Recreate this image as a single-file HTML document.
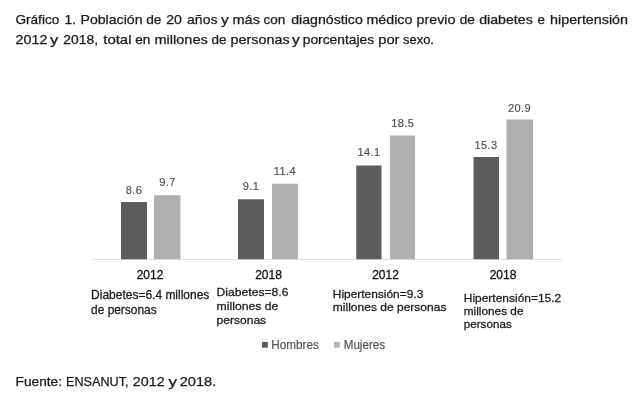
<!DOCTYPE html>
<html lang="es"><head><meta charset="utf-8"><title>Gráfico 1</title>
<style>html,body{margin:0;padding:0;background:#fff}body{width:640px;height:405px;overflow:hidden}svg{display:block;font-family:'Liberation Sans', sans-serif;filter:blur(.35px)}.t{font-size:12.4px;fill:#1a1a1a;stroke:#1a1a1a;stroke-width:.25px}.d{font-size:11px;fill:#4d4d4d;text-anchor:middle;letter-spacing:.45px;stroke:#4d4d4d;stroke-width:.15px}.y{font-size:12px;fill:#111;text-anchor:middle;stroke:#111;stroke-width:.3px}.n{font-size:12px;fill:#1c1c1c;stroke:#1c1c1c;stroke-width:.28px}.l{font-size:12px;fill:#555;stroke:#555;stroke-width:.2px}</style></head><body>
<svg width="640" height="405" viewBox="0 0 640 405">
<rect width="640" height="405" fill="#fff"/>
<text class="t" y="23.50"><tspan x="15.40" textLength="43.90" lengthAdjust="spacingAndGlyphs">Gráfico</tspan> <tspan x="64.50" textLength="11.50" lengthAdjust="spacingAndGlyphs">1.</tspan> <tspan x="80.50" textLength="62.00" lengthAdjust="spacingAndGlyphs">Población</tspan> <tspan x="146.25" textLength="15.25" lengthAdjust="spacingAndGlyphs">de</tspan> <tspan x="166.25" textLength="15.75" lengthAdjust="spacingAndGlyphs">20</tspan> <tspan x="187.00" textLength="30.50" lengthAdjust="spacingAndGlyphs">años</tspan> <tspan x="221.00" textLength="7.75" lengthAdjust="spacingAndGlyphs">y</tspan> <tspan x="232.50" textLength="27.50" lengthAdjust="spacingAndGlyphs">más</tspan> <tspan x="263.50" textLength="21.75" lengthAdjust="spacingAndGlyphs">con</tspan> <tspan x="291.25" textLength="71.50" lengthAdjust="spacingAndGlyphs">diagnóstico</tspan> <tspan x="366.40" textLength="46.00" lengthAdjust="spacingAndGlyphs">médico</tspan> <tspan x="416.60" textLength="38.70" lengthAdjust="spacingAndGlyphs">previo</tspan> <tspan x="459.70" textLength="15.20" lengthAdjust="spacingAndGlyphs">de</tspan> <tspan x="479.20" textLength="53.55" lengthAdjust="spacingAndGlyphs">diabetes</tspan> <tspan x="537.50" textLength="7.50" lengthAdjust="spacingAndGlyphs">e</tspan> <tspan x="550.10" textLength="77.90" lengthAdjust="spacingAndGlyphs">hipertensión</tspan></text>
<text class="t" y="43.75"><tspan x="15.60" textLength="31.80" lengthAdjust="spacingAndGlyphs">2012</tspan> <tspan x="50.00" textLength="8.20" lengthAdjust="spacingAndGlyphs">y</tspan> <tspan x="63.25" textLength="34.75" lengthAdjust="spacingAndGlyphs">2018,</tspan> <tspan x="103.25" textLength="28.25" lengthAdjust="spacingAndGlyphs">total</tspan> <tspan x="135.25" textLength="15.25" lengthAdjust="spacingAndGlyphs">en</tspan> <tspan x="154.50" textLength="53.25" lengthAdjust="spacingAndGlyphs">millones</tspan> <tspan x="211.60" textLength="15.00" lengthAdjust="spacingAndGlyphs">de</tspan> <tspan x="230.60" textLength="59.00" lengthAdjust="spacingAndGlyphs">personas</tspan> <tspan x="292.00" textLength="7.70" lengthAdjust="spacingAndGlyphs">y</tspan> <tspan x="302.70" textLength="71.55" lengthAdjust="spacingAndGlyphs">porcentajes</tspan> <tspan x="378.30" textLength="21.20" lengthAdjust="spacingAndGlyphs">por</tspan> <tspan x="403.10" textLength="30.80" lengthAdjust="spacingAndGlyphs">sexo.</tspan></text>
<rect x="92.5" y="259" width="469.5" height="1" fill="#e2e2e2"/>
<rect x="121.00" y="202.00" width="26.00" height="57.30" fill="#5c5c5c"/>
<rect x="154.00" y="195.25" width="26.50" height="64.05" fill="#afafaf"/>
<rect x="238.00" y="199.25" width="26.00" height="60.05" fill="#5c5c5c"/>
<rect x="272.00" y="183.75" width="26.00" height="75.55" fill="#afafaf"/>
<rect x="356.25" y="165.50" width="25.25" height="93.80" fill="#5c5c5c"/>
<rect x="390.00" y="135.50" width="25.00" height="123.80" fill="#afafaf"/>
<rect x="473.50" y="157.00" width="25.50" height="102.30" fill="#5c5c5c"/>
<rect x="506.50" y="119.50" width="26.50" height="139.80" fill="#afafaf"/>
<text class="d" x="134.00" y="193.50">8.6</text>
<text class="d" x="167.50" y="186.25">9.7</text>
<text class="d" x="251.00" y="190.25">9.1</text>
<text class="d" x="285.00" y="174.75">11.4</text>
<text class="d" x="369.00" y="156.25">14.1</text>
<text class="d" x="402.75" y="127.00">18.5</text>
<text class="d" x="486.00" y="148.50">15.3</text>
<text class="d" x="519.50" y="111.50">20.9</text>
<text class="y" x="150.00" y="279.00">2012</text>
<text class="y" x="268.50" y="279.10">2018</text>
<text class="y" x="385.50" y="279.10">2012</text>
<text class="y" x="503.00" y="279.10">2018</text>
<text class="n" style="font-size:11.9px" x="91.10" y="299.30" textLength="118.25" lengthAdjust="spacingAndGlyphs">Diabetes=6.4 millones</text>
<text class="n" style="font-size:11.9px" x="91.10" y="313.70" textLength="65.50" lengthAdjust="spacingAndGlyphs">de personas</text>
<text class="n" style="font-size:11.6px" x="216.60" y="296.10" textLength="71.90" lengthAdjust="spacingAndGlyphs">Diabetes=8.6</text>
<text class="n" style="font-size:11.6px" x="216.60" y="310.00" textLength="61.70" lengthAdjust="spacingAndGlyphs">millones de</text>
<text class="n" style="font-size:11.6px" x="216.60" y="323.60" textLength="49.50" lengthAdjust="spacingAndGlyphs">personas</text>
<text class="n" style="font-size:11.6px" x="332.80" y="297.50" textLength="90.50" lengthAdjust="spacingAndGlyphs">Hipertensión=9.3</text>
<text class="n" style="font-size:11.6px" x="332.80" y="310.90" textLength="113.60" lengthAdjust="spacingAndGlyphs">millones de personas</text>
<text class="n" style="font-size:11.6px" x="463.75" y="302.00" textLength="97.50" lengthAdjust="spacingAndGlyphs">Hipertensión=15.2</text>
<text class="n" style="font-size:11.6px" x="463.75" y="315.00" textLength="59.75" lengthAdjust="spacingAndGlyphs">millones de</text>
<text class="n" style="font-size:11.6px" x="463.75" y="328.10" textLength="48.00" lengthAdjust="spacingAndGlyphs">personas</text>
<rect x="262" y="341.9" width="5.8" height="5.8" fill="#5b5b5b"/>
<text class="l" x="271.25" y="348.7" textLength="47.5" lengthAdjust="spacingAndGlyphs">Hombres</text>
<rect x="334" y="341.9" width="5.8" height="5.8" fill="#b4b4b4"/>
<text class="l" x="343.75" y="348.7" textLength="41.25" lengthAdjust="spacingAndGlyphs">Mujeres</text>
<text class="t" y="385.60"><tspan x="15.60" textLength="46.40" lengthAdjust="spacingAndGlyphs">Fuente:</tspan> <tspan x="66.00" textLength="62.50" lengthAdjust="spacingAndGlyphs">ENSANUT,</tspan> <tspan x="132.80" textLength="32.00" lengthAdjust="spacingAndGlyphs">2012</tspan> <tspan x="168.50" textLength="8.50" lengthAdjust="spacingAndGlyphs">y</tspan> <tspan x="179.70" textLength="36.50" lengthAdjust="spacingAndGlyphs">2018.</tspan></text>
</svg></body></html>
